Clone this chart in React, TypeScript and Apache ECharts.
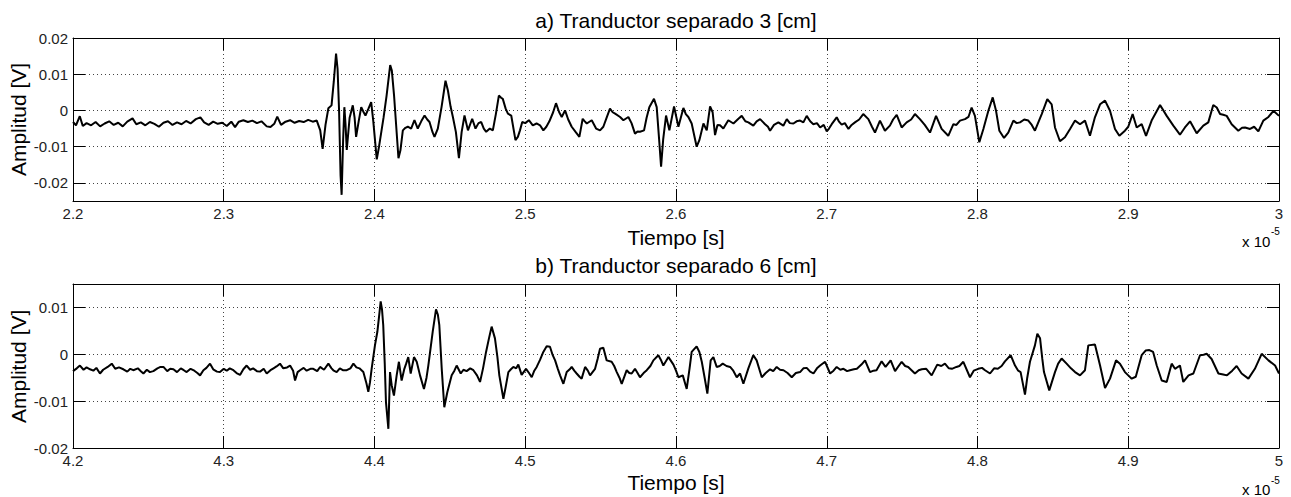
import React, { useEffect, useRef } from "react";
import * as echarts from "echarts";

// Time in units of 1e-5 s, amplitude in volts.
const traceA: [number, number][] = [
  [2.2, -0.0032], [2.202, -0.0041], [2.2045, -0.0016], [2.2065, -0.0043], [2.209, -0.0035], [2.212, -0.0041],
  [2.215, -0.0032], [2.218, -0.0044], [2.221, -0.0036], [2.224, -0.003], [2.227, -0.004], [2.23, -0.0034],
  [2.233, -0.0044], [2.236, -0.0031], [2.2395, -0.0022], [2.242, -0.0038], [2.245, -0.0033], [2.248, -0.0041],
  [2.251, -0.0032], [2.254, -0.0037], [2.257, -0.0045], [2.26, -0.0034], [2.263, -0.003], [2.266, -0.004],
  [2.269, -0.0033], [2.272, -0.0038], [2.275, -0.0029], [2.278, -0.0036], [2.2815, -0.0024], [2.2845, -0.0019],
  [2.287, -0.0033], [2.29, -0.004], [2.293, -0.0031], [2.296, -0.0037], [2.299, -0.0034], [2.302, -0.0043],
  [2.305, -0.0031], [2.3075, -0.0046], [2.31, -0.0031], [2.313, -0.0027], [2.316, -0.0032], [2.319, -0.0028],
  [2.322, -0.0035], [2.325, -0.003], [2.3285, -0.0044], [2.331, -0.0046], [2.3335, -0.0037], [2.3355, -0.0017],
  [2.338, -0.004], [2.341, -0.0031], [2.344, -0.0027], [2.347, -0.0034], [2.35, -0.0029], [2.353, -0.0032],
  [2.356, -0.0026], [2.359, -0.0031], [2.3617, -0.0028], [2.364, -0.0055], [2.3656, -0.0106], [2.3675, -0.004],
  [2.3694, 0.0006], [2.3715, 0.0014], [2.373, 0.008], [2.3745, 0.0157], [2.3755, 0.0115], [2.3765, 0.0],
  [2.3775, -0.018], [2.3782, -0.0233], [2.3792, -0.008], [2.38, 0.0009], [2.3808, -0.004], [2.3816, -0.0109],
  [2.3835, -0.002], [2.3856, 0.0014], [2.3868, -0.002], [2.3878, -0.0073], [2.3895, -0.003], [2.3912, 0.0009],
  [2.3928, -0.0005], [2.394, -0.0014], [2.396, 0.0005], [2.3978, 0.0023], [2.3992, -0.003], [2.4015, -0.0135],
  [2.403, -0.01], [2.406, -0.002], [2.408, 0.004], [2.4104, 0.0125], [2.4115, 0.011], [2.413, 0.004],
  [2.4159, -0.0132], [2.4172, -0.011], [2.4188, -0.0055], [2.4205, -0.0048], [2.4221, -0.0045], [2.4243, -0.005],
  [2.4265, -0.0027], [2.4287, -0.005], [2.431, -0.003], [2.4332, -0.0014], [2.435, -0.0025], [2.4365, -0.0032],
  [2.4385, -0.006], [2.4398, -0.0073], [2.442, -0.005], [2.4445, 0.001], [2.4471, 0.0082], [2.4487, 0.0055],
  [2.4505, 0.001], [2.452, -0.0018], [2.454, -0.006], [2.456, -0.0132], [2.4578, -0.006], [2.4597, -0.0014],
  [2.462, -0.0055], [2.4648, -0.0023], [2.467, -0.005], [2.469, -0.0035], [2.4708, -0.0032], [2.4725, -0.005],
  [2.4741, -0.0059], [2.4765, -0.005], [2.4785, -0.0055], [2.4805, -0.001], [2.4825, 0.0041], [2.484, 0.0035],
  [2.4851, 0.0032], [2.487, 0.0005], [2.4885, -0.0009], [2.4907, -0.0014], [2.4935, -0.0082], [2.4951, -0.0073],
  [2.4965, -0.0055], [2.498, -0.0032], [2.5, -0.0035], [2.5024, -0.0027], [2.505, -0.0041], [2.5075, -0.0036],
  [2.5098, -0.0041], [2.512, -0.0055], [2.514, -0.0045], [2.516, -0.003], [2.5185, -0.0005], [2.5204, 0.002],
  [2.5225, -0.0005], [2.5242, -0.0018], [2.5264, 0.0], [2.5285, -0.0025], [2.5308, -0.0045], [2.5335, -0.006],
  [2.5359, -0.0073], [2.5381, -0.0023], [2.5395, -0.003], [2.5408, -0.0036], [2.5441, -0.0027], [2.547, -0.005],
  [2.5496, -0.0055], [2.5518, -0.0045], [2.554, -0.002], [2.5562, 0.0005], [2.558, -0.0005], [2.5596, -0.0009],
  [2.5629, -0.0018], [2.5651, -0.0027], [2.5684, -0.0018], [2.5705, -0.0035], [2.5728, -0.0064], [2.5745, -0.0058],
  [2.5761, -0.0059], [2.5788, -0.0055], [2.5805, -0.002], [2.5823, 0.0009], [2.5854, 0.0032], [2.5872, 0.0009],
  [2.5888, -0.008], [2.5901, -0.0155], [2.5915, -0.008], [2.5934, -0.0014], [2.5956, -0.0055], [2.5987, 0.0011],
  [2.6016, -0.0045], [2.6049, 0.0007], [2.6065, -0.001], [2.6082, -0.0018], [2.6104, -0.0036], [2.6137, -0.01],
  [2.6155, -0.0082], [2.6182, -0.0036], [2.6204, -0.0055], [2.6226, 0.0011], [2.6243, -0.0005], [2.6259, -0.0068],
  [2.6275, -0.004], [2.6292, -0.0041], [2.6314, -0.005], [2.6347, -0.0027], [2.6381, -0.0036], [2.6414, -0.0023],
  [2.6436, -0.0015], [2.646, -0.003], [2.648, -0.0033], [2.6513, -0.0042], [2.6535, -0.003], [2.6558, -0.0024],
  [2.6591, -0.0038], [2.661, -0.0045], [2.6624, -0.0056], [2.665, -0.004], [2.6679, -0.0033], [2.6712, -0.0042],
  [2.6735, -0.0024], [2.6755, -0.0035], [2.6779, -0.0036], [2.68, -0.003], [2.6823, -0.0028], [2.6845, -0.0033],
  [2.6867, -0.0015], [2.689, -0.003], [2.6911, -0.0038], [2.6935, -0.0035], [2.6956, -0.0047], [2.698, -0.004],
  [2.7, -0.0058], [2.7015, -0.005], [2.7033, -0.0038], [2.7066, -0.0019], [2.708, -0.003], [2.7099, -0.0039],
  [2.712, -0.0035], [2.7144, -0.0051], [2.7165, -0.004], [2.7187, -0.0033], [2.7215, -0.0025], [2.7242, -0.001],
  [2.7276, -0.0024], [2.73, -0.0045], [2.732, -0.0061], [2.7353, -0.0028], [2.7386, -0.0056], [2.7419, -0.0042],
  [2.744, -0.0025], [2.7464, -0.0012], [2.7497, -0.0047], [2.753, -0.0033], [2.756, -0.0025], [2.7585, -0.001],
  [2.7618, -0.0024], [2.765, -0.004], [2.7685, -0.0061], [2.7725, -0.0015], [2.7762, -0.0051], [2.7806, -0.007],
  [2.784, -0.0038], [2.786, -0.004], [2.7884, -0.0028], [2.7917, -0.0024], [2.794, -0.0018], [2.7961, 0.0008],
  [2.7983, -0.0015], [2.8012, -0.0088], [2.8039, -0.0051], [2.8072, -0.0001], [2.8101, 0.0036], [2.8123, -0.0001],
  [2.8145, -0.0056], [2.8176, -0.0076], [2.8204, -0.0061], [2.8238, -0.0028], [2.826, -0.0035], [2.8282, -0.0033],
  [2.831, -0.0025], [2.8337, -0.0028], [2.836, -0.004], [2.8381, -0.0056], [2.8426, -0.001], [2.8463, 0.0031],
  [2.8492, 0.0017], [2.8514, -0.0047], [2.8547, -0.0085], [2.858, -0.0074], [2.8614, -0.0051], [2.8647, -0.0028],
  [2.868, -0.0038], [2.8713, -0.0028], [2.8746, -0.007], [2.8779, -0.0019], [2.8813, 0.0017], [2.8846, 0.0027],
  [2.8879, -0.0001], [2.8912, -0.0051], [2.8941, -0.007], [2.8978, -0.0056], [2.9, -0.0045], [2.9029, -0.001],
  [2.9056, -0.0047], [2.9089, -0.0038], [2.9118, -0.007], [2.9155, -0.0028], [2.9185, -0.0005], [2.9211, 0.0015],
  [2.9255, -0.0015], [2.9299, -0.0042], [2.9343, -0.0067], [2.9376, -0.0047], [2.941, -0.003], [2.9454, -0.0063],
  [2.9498, -0.0042], [2.9531, -0.0033], [2.9564, 0.0015], [2.9587, 0.0008], [2.9609, -0.001], [2.963, -0.0012],
  [2.9653, -0.0015], [2.9686, -0.0038], [2.973, -0.0056], [2.9755, -0.0048], [2.9775, -0.0047], [2.9808, -0.0051],
  [2.9835, -0.0045], [2.9863, -0.0058], [2.9896, -0.0028], [2.993, -0.0018], [2.9963, -0.0001], [3.0, -0.0015],
];

const traceB: [number, number][] = [
  [4.2, -0.0036], [4.2025, -0.003], [4.2046, -0.0024], [4.207, -0.0033], [4.209, -0.0028], [4.2113, -0.0032],
  [4.2135, -0.0035], [4.2155, -0.0029], [4.2179, -0.0041], [4.22, -0.0033], [4.223, -0.0027], [4.2257, -0.002],
  [4.228, -0.0031], [4.2305, -0.0028], [4.2334, -0.0032], [4.236, -0.0037], [4.238, -0.0031], [4.24, -0.0034],
  [4.243, -0.003], [4.245, -0.0036], [4.2467, -0.0041], [4.249, -0.0033], [4.251, -0.0038], [4.2533, -0.0036],
  [4.256, -0.003], [4.258, -0.0027], [4.26, -0.0027], [4.2625, -0.0036], [4.2645, -0.0031], [4.2666, -0.0032],
  [4.269, -0.0038], [4.2715, -0.003], [4.2735, -0.0034], [4.2754, -0.0038], [4.278, -0.0031], [4.2805, -0.0035],
  [4.2825, -0.004], [4.2843, -0.0045], [4.2865, -0.0034], [4.2885, -0.0029], [4.2909, -0.002], [4.293, -0.0032],
  [4.2955, -0.0037], [4.2975, -0.0038], [4.3, -0.0031], [4.302, -0.0035], [4.304, -0.003], [4.3064, -0.0034],
  [4.3085, -0.004], [4.3108, -0.0044], [4.313, -0.0032], [4.3152, -0.0024], [4.3175, -0.0033], [4.3195, -0.003],
  [4.322, -0.0036], [4.3241, -0.0037], [4.3265, -0.0031], [4.3285, -0.0041], [4.331, -0.0034], [4.333, -0.003],
  [4.335, -0.0026], [4.3373, -0.002], [4.3395, -0.003], [4.342, -0.0028], [4.344, -0.0024], [4.346, -0.0035],
  [4.3473, -0.0056], [4.349, -0.0038], [4.3506, -0.0034], [4.353, -0.0029], [4.355, -0.0035], [4.3575, -0.0031],
  [4.3594, -0.0031], [4.362, -0.0036], [4.3639, -0.0027], [4.3665, -0.0033], [4.3694, -0.002], [4.3715, -0.003],
  [4.373, -0.0035], [4.3749, -0.0038], [4.377, -0.003], [4.379, -0.0034], [4.3816, -0.0034], [4.384, -0.003],
  [4.386, -0.002], [4.388, -0.0028], [4.39, -0.003], [4.3926, -0.0038], [4.3945, -0.006], [4.3959, -0.008],
  [4.397, -0.006], [4.3981, -0.0031], [4.4003, 0.0019], [4.4019, 0.0048], [4.403, 0.008], [4.4041, 0.0113],
  [4.405, 0.0095], [4.4058, 0.0062], [4.4068, -0.002], [4.4076, -0.0102], [4.4092, -0.0159], [4.4103, -0.0038],
  [4.4114, -0.0066], [4.4129, -0.0088], [4.4147, -0.0045], [4.4162, -0.0016], [4.418, -0.0056], [4.4198, -0.0031],
  [4.421, -0.002], [4.4224, -0.0006], [4.424, -0.0041], [4.4262, -0.0006], [4.428, -0.0016], [4.4302, -0.0045],
  [4.4328, -0.0074], [4.4345, -0.005], [4.4357, -0.0024], [4.4386, 0.0048], [4.4408, 0.0096], [4.442, 0.0085],
  [4.443, 0.0062], [4.4446, -0.0031], [4.4463, -0.0113], [4.4483, -0.0081], [4.4512, -0.0045], [4.453, -0.0035],
  [4.4545, -0.0024], [4.4572, -0.0041], [4.459, -0.0033], [4.4611, -0.0036], [4.4635, -0.003], [4.4656, -0.0034],
  [4.468, -0.0045], [4.47, -0.0059], [4.472, -0.003], [4.474, 0.0005], [4.476, 0.0035], [4.4777, 0.0059],
  [4.4799, 0.0034], [4.4815, -0.0005], [4.4828, -0.0045], [4.4855, -0.0095], [4.487, -0.007], [4.4888, -0.0038],
  [4.4905, -0.0032], [4.4921, -0.0027], [4.494, -0.003], [4.4954, -0.0022], [4.4976, -0.0044], [4.5005, -0.0031],
  [4.5025, -0.004], [4.5043, -0.0049], [4.506, -0.0035], [4.5076, -0.0027], [4.5098, -0.0012], [4.512, 0.0005],
  [4.5142, 0.0017], [4.5164, 0.0016], [4.518, 0.0], [4.5198, -0.0013], [4.5215, -0.003], [4.5231, -0.0045],
  [4.5253, -0.0063], [4.5275, -0.0038], [4.5295, -0.0032], [4.5308, -0.0027], [4.5325, -0.0035], [4.5341, -0.0041],
  [4.536, -0.0048], [4.5374, -0.0052], [4.5397, -0.0027], [4.5415, -0.0035], [4.543, -0.0045], [4.5463, -0.0031],
  [4.548, -0.001], [4.5496, 0.0012], [4.5518, 0.0014], [4.554, -0.0013], [4.5573, -0.0016], [4.559, -0.0025],
  [4.5607, -0.0038], [4.5625, -0.005], [4.564, -0.0063], [4.5673, -0.0034], [4.569, -0.004], [4.5706, -0.0041],
  [4.5728, -0.0031], [4.5745, -0.004], [4.5761, -0.0049], [4.5785, -0.004], [4.5806, -0.0034], [4.583, -0.0025],
  [4.585, -0.0013], [4.5883, -0.0002], [4.59, -0.0012], [4.5916, -0.0024], [4.595, -0.0006], [4.5983, -0.0022],
  [4.6, -0.0035], [4.6016, -0.0049], [4.6045, -0.0045], [4.6071, -0.0074], [4.609, -0.003], [4.6104, 0.0005],
  [4.6137, 0.0017], [4.6155, 0.0005], [4.6171, -0.0016], [4.619, -0.005], [4.6208, -0.0084], [4.623, -0.0013],
  [4.6248, -0.0006], [4.627, -0.0027], [4.629, -0.0025], [4.631, -0.002], [4.6335, -0.0025], [4.6359, -0.0027],
  [4.638, -0.0035], [4.6403, -0.0049], [4.6425, -0.0041], [4.6447, -0.0063], [4.648, -0.003], [4.6513, -0.0002],
  [4.6535, -0.0013], [4.6569, -0.0049], [4.6595, -0.004], [4.6624, -0.0032], [4.6645, -0.0036], [4.6668, -0.0027],
  [4.669, -0.0033], [4.6713, -0.0034], [4.674, -0.004], [4.6768, -0.0049], [4.6795, -0.004], [4.6823, -0.0038],
  [4.6845, -0.003], [4.6867, -0.0029], [4.689, -0.0037], [4.6912, -0.0041], [4.6935, -0.003], [4.6956, -0.0024],
  [4.6989, -0.0016], [4.7022, -0.0041], [4.7045, -0.0035], [4.7066, -0.0027], [4.709, -0.0033], [4.7111, -0.0031],
  [4.7135, -0.0036], [4.7154, -0.0034], [4.718, -0.0032], [4.72, -0.0031], [4.723, -0.0022], [4.7254, -0.0013],
  [4.7287, -0.0038], [4.731, -0.0035], [4.733, -0.0034], [4.7364, -0.0015], [4.739, -0.0027], [4.7424, -0.0013],
  [4.7453, -0.0036], [4.7497, -0.0016], [4.752, -0.0025], [4.754, -0.0027], [4.7585, -0.0041], [4.761, -0.0034],
  [4.763, -0.0032], [4.766, -0.0031], [4.7696, -0.0045], [4.7733, -0.0022], [4.776, -0.0025], [4.7784, -0.002],
  [4.781, -0.003], [4.783, -0.0031], [4.786, -0.0027], [4.788, -0.0025], [4.7906, -0.0016], [4.795, -0.0049],
  [4.7975, -0.0035], [4.8005, -0.0031], [4.803, -0.0029], [4.805, -0.0034], [4.8083, -0.0041], [4.811, -0.003],
  [4.8135, -0.0031], [4.816, -0.0025], [4.8182, -0.0015], [4.822, -0.0002], [4.8249, -0.0024], [4.827, -0.0035],
  [4.8286, -0.0038], [4.8315, -0.0086], [4.833, -0.005], [4.8348, -0.0016], [4.8381, 0.0019], [4.8397, 0.0044],
  [4.8415, 0.0034], [4.843, -0.001], [4.8441, -0.0038], [4.8476, -0.0077], [4.8514, -0.0038], [4.8535, -0.002],
  [4.8558, -0.0009], [4.8591, -0.002], [4.862, -0.003], [4.8647, -0.0038], [4.868, -0.0045], [4.8713, -0.0034],
  [4.8735, 0.0019], [4.8779, 0.0021], [4.8795, 0.0], [4.8813, -0.0024], [4.8846, -0.0072], [4.8879, -0.0052],
  [4.8919, -0.0013], [4.8945, -0.002], [4.8978, -0.0038], [4.9, -0.0045], [4.9023, -0.0052], [4.905, -0.0048],
  [4.9089, -0.0002], [4.9115, 0.0008], [4.914, 0.0009], [4.9165, 0.0005], [4.9189, -0.0024], [4.9222, -0.0056],
  [4.9255, -0.0059], [4.9288, -0.002], [4.931, -0.0031], [4.9343, -0.0024], [4.9365, -0.0059], [4.94, -0.0045],
  [4.9432, -0.0041], [4.9476, -0.0002], [4.95, -0.0001], [4.952, 0.0001], [4.9553, -0.001], [4.9598, -0.0041],
  [4.963, -0.0043], [4.9655, -0.0045], [4.969, -0.0035], [4.9719, -0.0025], [4.9752, -0.0041], [4.9797, -0.0052],
  [4.984, -0.0031], [4.9885, 0.0001], [4.993, -0.0013], [4.9974, -0.0024], [5.0, -0.0041],
];

const panelTitles = ["a) Tranductor separado 3 [cm]", "b) Tranductor separado 6 [cm]"];
const timeRanges: [number, number][] = [[2.2, 3.0], [4.2, 5.0]];
const ampRanges: [number, number][] = [[-0.025, 0.02], [-0.02, 0.015]];
const xName = "Tiempo [s]";
const yName = "Amplitud [V]";
const timeScale = "x 10";
const timeExponent = "-5";

const FONT = "'Liberation Sans', Arial, Helvetica, sans-serif";

export default function App() {
  const ref = useRef<HTMLDivElement>(null);

  useEffect(() => {
    if (!ref.current) return;
    const chart = echarts.init(ref.current, null, { renderer: "svg" });

    const panels = [
      { left: 73, top: 38, width: 1206, height: 163 },
      { left: 73, top: 284, width: 1206, height: 164 },
    ];

    const dotted = { type: [1, 3], color: "#444", width: 1 };
    const blackLine = { color: "#000", width: 1 };
    const tick = { show: true, inside: true, length: 12, lineStyle: blackLine };

    const fmtTime = (v: number) => String(Math.round(v * 10) / 10);
    const fmtAmp = (v: number) => {
      const h = v * 100;
      if (Math.abs(h - Math.round(h)) > 1e-6) return "";
      return String(Math.round(h) / 100);
    };

    const xAxis: any[] = [];
    const yAxis: any[] = [];
    panels.forEach((_, i) => {
      const [tMin, tMax] = timeRanges[i];
      const [aMin, aMax] = ampRanges[i];
      xAxis.push({
        type: "value", gridIndex: i, position: "bottom", min: tMin, max: tMax, interval: 0.1,
        axisLine: { show: true, onZero: false, lineStyle: blackLine },
        axisTick: tick,
        axisLabel: { color: "#222", fontSize: 15, fontFamily: FONT, margin: 5, formatter: fmtTime },
        splitLine: { show: true, lineStyle: dotted },
      });
      xAxis.push({
        type: "value", gridIndex: i, position: "top", min: tMin, max: tMax, interval: 0.1,
        axisLine: { show: true, onZero: false, lineStyle: blackLine },
        axisTick: tick, axisLabel: { show: false }, splitLine: { show: false },
      });
      const yCommon = {
        type: "value", gridIndex: i, min: aMin, max: aMax, splitNumber: 5,
        minInterval: 0.01, maxInterval: 0.01,
      };
      yAxis.push({
        ...yCommon, position: "left",
        axisLine: { show: true, onZero: false, lineStyle: blackLine },
        axisTick: tick,
        axisLabel: {
          color: "#222", fontSize: 15, fontFamily: FONT, margin: 5, formatter: fmtAmp,
          showMinLabel: true, showMaxLabel: true,
        },
        splitLine: { show: true, lineStyle: dotted },
      });
      yAxis.push({
        ...yCommon, position: "right",
        axisLine: { show: true, onZero: false, lineStyle: blackLine },
        axisTick: tick, axisLabel: { show: false }, splitLine: { show: false },
      });
    });

    const text = (x: number, y: number, s: string, size: number, extra: any = {}) => ({
      type: "text",
      x, y,
      ...extra,
      style: {
        text: s, fontSize: size, fontFamily: FONT, fill: "#000",
        align: extra.align || "center", verticalAlign: "middle",
        textAlign: extra.align || "center", textVerticalAlign: "middle",
      },
    });

    const graphics: any[] = [];
    const offsets = [0, 245];
    offsets.forEach((dy, i) => {
      graphics.push(text(676, 20 + dy, panelTitles[i], 21));
      graphics.push(text(676, 237 + dy, xName, 21));
      graphics.push(text(18, (i === 0 ? 119.5 : 366.3), yName, 21, { rotation: Math.PI / 2 }));
      graphics.push(text(1242, (i === 0 ? 241 : 489), timeScale, 15, { align: "left" }));
      graphics.push(text(1271, (i === 0 ? 231 : 480), timeExponent, 10, { align: "left" }));
    });

    chart.setOption({
      animation: false,
      backgroundColor: "#fff",
      grid: panels.map((p) => ({ ...p, containLabel: false, show: false })),
      xAxis,
      yAxis,
      series: [
        {
          type: "line", xAxisIndex: 0, yAxisIndex: 0, data: traceA,
          showSymbol: false, symbol: "none", clip: true,
          lineStyle: { color: "#000", width: 2 }, z: 5,
        },
        {
          type: "line", xAxisIndex: 2, yAxisIndex: 2, data: traceB,
          showSymbol: false, symbol: "none", clip: true,
          lineStyle: { color: "#000", width: 2 }, z: 5,
        },
      ],
      graphic: graphics,
    });

    return () => chart.dispose();
  }, []);

  return (
    <div
      ref={ref}
      style={{ position: "absolute", left: 0, top: 0, width: 1291, height: 497, background: "#fff" }}
    />
  );
}
